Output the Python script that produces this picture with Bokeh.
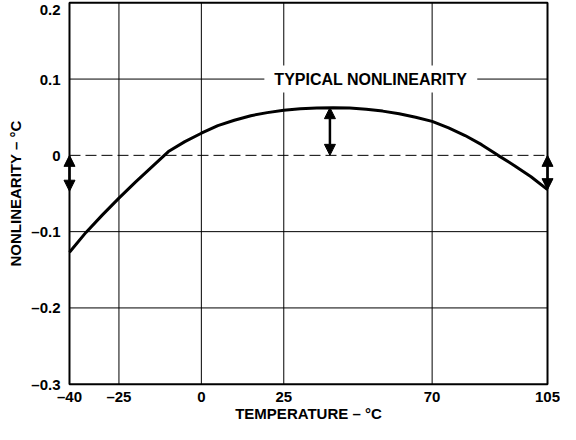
from bokeh.plotting import figure
from bokeh.models import (Range1d, FixedTicker, Label, Arrow, NormalHead,
                          ColumnDataSource, LinearAxis)
from bokeh.embed import file_html
from bokeh.resources import INLINE

# Data
temps = [-40, -35, -30, -25, -20, -15, -10, -5, 0, 5, 10, 15, 20, 25, 30, 35,
         40, 45, 50, 55, 60, 65, 70, 75, 80, 85, 90, 95, 100, 105]
nonlin = [-0.127, -0.101, -0.078, -0.056, -0.035, -0.015, 0.005, 0.018, 0.029,
          0.039, 0.046, 0.052, 0.056, 0.059, 0.061, 0.062, 0.0625, 0.062, 0.0605,
          0.058, 0.0545, 0.050, 0.0445, 0.036, 0.026, 0.014, 0.0, -0.0135, -0.028,
          -0.045]

x_min, x_max = -40, 105
y_min, y_max = -0.3, 0.2
x_ticks = [-40, -25, 0, 25, 70, 105]
x_tick_labels = ["–40", "–25", "0", "25", "70", "105"]
y_ticks = [-0.3, -0.2, -0.1, 0, 0.1, 0.2]
y_tick_labels = ["–0.3", "–0.2", "–0.1", "0", "0.1", "0.2"]
x_grid = [-25, 0, 25, 70]
y_grid = [-0.2, -0.1, 0.1]
zero_level = 0

arrow_x = [-40, 39, 105]
arrow_from = [0, 0, 0]
arrow_to = [-0.047, 0.0625, -0.045]

annot_text = "TYPICAL NONLINEARITY"
annot_x = 51.4
annot_y = 0.1

x_title = "TEMPERATURE – °C"
y_title = "NONLINEARITY – °C"

FONT = "Liberation Sans"
XPAD = 2.12
YPAD = 0.003

p = figure(width=560, height=424, output_backend="svg", toolbar_location=None,
           x_range=Range1d(x_min - XPAD, x_max + XPAD),
           y_range=Range1d(y_min - YPAD, y_max + YPAD),
           min_border_left=62, min_border_right=6, min_border_top=0,
           min_border_bottom=0)

p.background_fill_color = "white"
p.outline_line_color = None
p.grid.visible = False


def style_axis(ax):
    ax.axis_line_color = None
    ax.major_tick_line_color = None
    ax.minor_tick_line_color = None
    ax.major_tick_out = 0
    ax.major_tick_in = 0
    ax.minor_tick_out = 0
    ax.minor_tick_in = 0
    ax.major_label_text_font = FONT
    ax.major_label_text_font_style = "bold"
    ax.major_label_text_font_size = "15px"
    ax.major_label_text_color = "black"
    ax.axis_label_text_font = FONT
    ax.axis_label_text_font_style = "bold"
    ax.axis_label_text_font_size = "15px"
    ax.axis_label_text_color = "black"


# axes
xax = p.xaxis[0]
yax = p.yaxis[0]
xax.ticker = FixedTicker(ticks=x_ticks)
yax.ticker = FixedTicker(ticks=y_ticks)
xax.major_label_overrides = {t: l for t, l in zip(x_ticks, x_tick_labels)}
yax.major_label_overrides = {t: l for t, l in zip(y_ticks, y_tick_labels)}
yax.axis_label = y_title
style_axis(xax)
style_axis(yax)
xax.major_label_standoff = 1
yax.major_label_standoff = 2
yax.axis_label_standoff = 4

# x-axis title: a second, label-only axis below the tick labels
x_mid = (x_min + x_max) / 2
tax = LinearAxis(ticker=FixedTicker(ticks=[x_mid]),
                 major_label_overrides={x_mid: x_title})
style_axis(tax)
tax.major_label_standoff = -3
p.add_layout(tax, "below")

# grid lines (drawn within the data limits)
p.segment(x0=x_grid, y0=[y_min] * len(x_grid), x1=x_grid, y1=[y_max] * len(x_grid),
          line_color="black", line_width=1)
p.segment(x0=[x_min] * len(y_grid), y0=y_grid, x1=[x_max] * len(y_grid), y1=y_grid,
          line_color="black", line_width=1)
# zero dashed line
p.segment(x0=[x_min], y0=[zero_level], x1=[x_max], y1=[zero_level],
          line_color="black", line_width=1, line_dash="11 5")

# frame
p.quad(left=[x_min], right=[x_max], bottom=[y_min], top=[y_max],
       fill_color=None, line_color="black", line_width=2)

# curve
p.line(temps, nonlin, line_color="black", line_width=3)

# annotation label
p.add_layout(Label(x=annot_x, y=annot_y, text=annot_text, text_align="center",
                   text_baseline="middle", text_font=FONT, text_font_style="bold",
                   text_font_size="16px", text_color="black",
                   background_fill_color="white",
                   padding=dict(left=10, right=10, top=5, bottom=5)))

# arrows
src = ColumnDataSource(dict(x=arrow_x, y0=arrow_from, y1=arrow_to))
p.add_layout(Arrow(
    start=NormalHead(size=11, fill_color="black", line_color="black", line_width=1),
    end=NormalHead(size=11, fill_color="black", line_color="black", line_width=1),
    x_start="x", y_start="y0", x_end="x", y_end="y1", source=src,
    line_color="black", line_width=2.5))

open("out.html", "w").write(file_html(p, INLINE))
